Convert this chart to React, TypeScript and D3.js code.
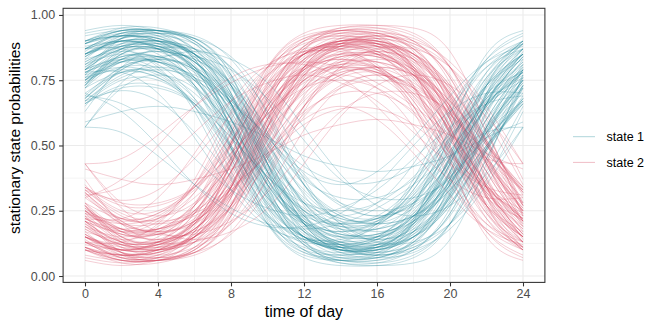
import React, { useEffect, useRef } from "react";
import * as d3 from "d3";

const hours = [0, 2, 4, 6, 8, 10, 12, 14, 16, 18, 20, 22, 24];

// state 1 stationary probability, one row per posterior draw
const state1Samples: number[][] = [
  [0.80, 0.87, 0.87, 0.80, 0.63, 0.37, 0.20, 0.13, 0.13, 0.20, 0.37, 0.63, 0.80],
  [0.85, 0.90, 0.90, 0.85, 0.69, 0.45, 0.25, 0.16, 0.16, 0.25, 0.45, 0.69, 0.85],
  [0.75, 0.84, 0.84, 0.75, 0.55, 0.31, 0.15, 0.10, 0.10, 0.15, 0.31, 0.55, 0.75],
  [0.85, 0.92, 0.92, 0.85, 0.66, 0.34, 0.15, 0.08, 0.08, 0.15, 0.34, 0.66, 0.85],
  [0.78, 0.84, 0.84, 0.78, 0.64, 0.45, 0.30, 0.22, 0.22, 0.30, 0.45, 0.64, 0.78],
  [0.70, 0.78, 0.78, 0.70, 0.55, 0.36, 0.22, 0.16, 0.16, 0.22, 0.36, 0.55, 0.70],
  [0.85, 0.88, 0.85, 0.73, 0.50, 0.27, 0.15, 0.12, 0.15, 0.27, 0.50, 0.73, 0.85],
  [0.73, 0.85, 0.88, 0.85, 0.73, 0.50, 0.27, 0.15, 0.12, 0.15, 0.27, 0.50, 0.73],
  [0.89, 0.92, 0.89, 0.80, 0.60, 0.35, 0.21, 0.17, 0.21, 0.35, 0.60, 0.80, 0.89],
  [0.80, 0.89, 0.92, 0.89, 0.80, 0.60, 0.35, 0.21, 0.17, 0.21, 0.35, 0.60, 0.80],
  [0.79, 0.83, 0.79, 0.65, 0.40, 0.20, 0.11, 0.08, 0.11, 0.20, 0.40, 0.65, 0.79],
  [0.65, 0.79, 0.83, 0.79, 0.65, 0.40, 0.20, 0.11, 0.08, 0.11, 0.20, 0.40, 0.65],
  [0.85, 0.90, 0.90, 0.85, 0.72, 0.51, 0.32, 0.22, 0.22, 0.32, 0.51, 0.72, 0.85],
  [0.68, 0.78, 0.78, 0.68, 0.49, 0.28, 0.15, 0.10, 0.10, 0.15, 0.28, 0.49, 0.68],
  [0.89, 0.94, 0.94, 0.89, 0.70, 0.35, 0.13, 0.07, 0.07, 0.13, 0.35, 0.70, 0.89],
  [0.83, 0.86, 0.83, 0.73, 0.55, 0.35, 0.23, 0.20, 0.23, 0.35, 0.55, 0.73, 0.83],
  [0.73, 0.83, 0.86, 0.83, 0.73, 0.55, 0.35, 0.23, 0.20, 0.23, 0.35, 0.55, 0.73],
  [0.87, 0.90, 0.87, 0.73, 0.45, 0.20, 0.09, 0.07, 0.09, 0.20, 0.45, 0.73, 0.87],
  [0.73, 0.87, 0.90, 0.87, 0.73, 0.45, 0.20, 0.09, 0.07, 0.09, 0.20, 0.45, 0.73],
  [0.90, 0.94, 0.94, 0.90, 0.76, 0.51, 0.28, 0.18, 0.18, 0.28, 0.51, 0.76, 0.90],
  [0.72, 0.82, 0.82, 0.72, 0.49, 0.24, 0.10, 0.06, 0.06, 0.10, 0.24, 0.49, 0.72],
  [0.76, 0.79, 0.76, 0.67, 0.53, 0.38, 0.28, 0.25, 0.28, 0.38, 0.53, 0.67, 0.76],
  [0.67, 0.76, 0.79, 0.76, 0.67, 0.53, 0.38, 0.28, 0.25, 0.28, 0.38, 0.53, 0.67],
  [0.87, 0.93, 0.93, 0.87, 0.70, 0.40, 0.18, 0.11, 0.11, 0.18, 0.40, 0.70, 0.87],
  [0.75, 0.82, 0.82, 0.75, 0.58, 0.37, 0.21, 0.15, 0.15, 0.21, 0.37, 0.58, 0.75],
  [0.90, 0.92, 0.90, 0.82, 0.65, 0.43, 0.28, 0.23, 0.28, 0.43, 0.65, 0.82, 0.90],
  [0.57, 0.72, 0.77, 0.72, 0.57, 0.35, 0.18, 0.10, 0.08, 0.10, 0.18, 0.35, 0.57],
  [0.79, 0.84, 0.84, 0.79, 0.68, 0.52, 0.37, 0.30, 0.30, 0.37, 0.52, 0.68, 0.79],
  [0.81, 0.89, 0.89, 0.81, 0.57, 0.26, 0.10, 0.05, 0.05, 0.10, 0.26, 0.57, 0.81],
  [0.93, 0.95, 0.93, 0.83, 0.57, 0.27, 0.12, 0.09, 0.12, 0.27, 0.57, 0.83, 0.93],
  [0.74, 0.83, 0.86, 0.83, 0.74, 0.57, 0.39, 0.27, 0.23, 0.27, 0.39, 0.57, 0.74],
  [0.77, 0.80, 0.77, 0.66, 0.48, 0.30, 0.20, 0.17, 0.20, 0.30, 0.48, 0.66, 0.77],
  [0.73, 0.86, 0.89, 0.86, 0.73, 0.48, 0.23, 0.12, 0.09, 0.12, 0.23, 0.48, 0.73],
  [0.90, 0.95, 0.95, 0.90, 0.73, 0.40, 0.17, 0.09, 0.09, 0.17, 0.40, 0.73, 0.90],
  [0.66, 0.72, 0.72, 0.66, 0.53, 0.38, 0.26, 0.20, 0.20, 0.26, 0.38, 0.53, 0.66],
  [0.92, 0.94, 0.92, 0.83, 0.62, 0.35, 0.20, 0.15, 0.20, 0.35, 0.62, 0.83, 0.92],
  [0.83, 0.92, 0.94, 0.92, 0.83, 0.62, 0.35, 0.20, 0.15, 0.20, 0.35, 0.62, 0.83],
  [0.76, 0.82, 0.82, 0.76, 0.60, 0.40, 0.24, 0.18, 0.18, 0.24, 0.40, 0.60, 0.76],
  [0.84, 0.90, 0.90, 0.84, 0.66, 0.39, 0.19, 0.12, 0.12, 0.19, 0.39, 0.66, 0.84],
  [0.78, 0.82, 0.78, 0.65, 0.43, 0.23, 0.14, 0.11, 0.14, 0.23, 0.43, 0.65, 0.78],
  [0.84, 0.91, 0.93, 0.91, 0.84, 0.67, 0.44, 0.28, 0.23, 0.28, 0.44, 0.67, 0.84],
  [0.76, 0.86, 0.86, 0.76, 0.49, 0.20, 0.07, 0.04, 0.04, 0.07, 0.20, 0.49, 0.76],
  [0.94, 0.96, 0.94, 0.85, 0.55, 0.21, 0.08, 0.06, 0.08, 0.21, 0.55, 0.85, 0.94],
  [0.77, 0.91, 0.94, 0.91, 0.77, 0.43, 0.14, 0.05, 0.04, 0.05, 0.14, 0.43, 0.77],
  [0.75, 0.80, 0.80, 0.75, 0.66, 0.54, 0.42, 0.36, 0.36, 0.42, 0.54, 0.66, 0.75],
  [0.67, 0.71, 0.67, 0.55, 0.38, 0.23, 0.15, 0.13, 0.15, 0.23, 0.38, 0.55, 0.67],
  [0.79, 0.91, 0.93, 0.91, 0.79, 0.53, 0.24, 0.11, 0.08, 0.11, 0.24, 0.53, 0.79],
  [0.82, 0.88, 0.88, 0.82, 0.68, 0.47, 0.29, 0.21, 0.21, 0.29, 0.47, 0.68, 0.82],
  [0.79, 0.87, 0.87, 0.79, 0.57, 0.29, 0.13, 0.07, 0.07, 0.13, 0.29, 0.57, 0.79],
  [0.90, 0.92, 0.90, 0.78, 0.50, 0.22, 0.10, 0.08, 0.10, 0.22, 0.50, 0.78, 0.90],
  [0.67, 0.77, 0.80, 0.77, 0.67, 0.50, 0.33, 0.23, 0.20, 0.23, 0.33, 0.50, 0.67],
  [0.57, 0.55, 0.46, 0.35, 0.26, 0.20, 0.18, 0.20, 0.26, 0.35, 0.46, 0.55, 0.57],
  [0.69, 0.66, 0.57, 0.45, 0.33, 0.26, 0.23, 0.26, 0.33, 0.45, 0.57, 0.66, 0.69],
  [0.59, 0.63, 0.65, 0.63, 0.59, 0.53, 0.46, 0.42, 0.40, 0.42, 0.46, 0.53, 0.59],
  [0.57, 0.74, 0.83, 0.86, 0.83, 0.74, 0.57, 0.39, 0.27, 0.23, 0.27, 0.39, 0.57],
  [0.70, 0.63, 0.50, 0.35, 0.24, 0.19, 0.19, 0.24, 0.35, 0.50, 0.63, 0.70, 0.70],
  [0.87, 0.87, 0.80, 0.63, 0.37, 0.20, 0.13, 0.13, 0.20, 0.37, 0.63, 0.80, 0.87],
  [0.63, 0.80, 0.87, 0.87, 0.80, 0.63, 0.37, 0.20, 0.13, 0.13, 0.20, 0.37, 0.63],
  [0.68, 0.79, 0.84, 0.84, 0.79, 0.68, 0.52, 0.37, 0.30, 0.30, 0.37, 0.52, 0.68],
  [0.78, 0.78, 0.70, 0.53, 0.33, 0.19, 0.14, 0.14, 0.19, 0.33, 0.53, 0.70, 0.78],
  [0.88, 0.90, 0.88, 0.82, 0.69, 0.53, 0.40, 0.35, 0.40, 0.53, 0.69, 0.82, 0.88],
  [0.82, 0.88, 0.88, 0.82, 0.66, 0.42, 0.23, 0.16, 0.16, 0.23, 0.42, 0.66, 0.82],
  [0.79, 0.87, 0.87, 0.79, 0.60, 0.33, 0.16, 0.10, 0.10, 0.16, 0.33, 0.60, 0.79],
  [0.87, 0.90, 0.87, 0.76, 0.53, 0.28, 0.15, 0.12, 0.15, 0.28, 0.53, 0.76, 0.87],
  [0.77, 0.87, 0.90, 0.87, 0.77, 0.55, 0.31, 0.18, 0.14, 0.18, 0.31, 0.55, 0.77],
  [0.90, 0.94, 0.94, 0.90, 0.75, 0.46, 0.22, 0.13, 0.13, 0.22, 0.46, 0.75, 0.90],
  [0.66, 0.75, 0.75, 0.66, 0.49, 0.30, 0.17, 0.12, 0.12, 0.17, 0.30, 0.49, 0.66],
  [0.81, 0.85, 0.81, 0.68, 0.45, 0.24, 0.14, 0.11, 0.14, 0.24, 0.45, 0.68, 0.81],
  [0.68, 0.80, 0.83, 0.80, 0.68, 0.48, 0.28, 0.17, 0.14, 0.17, 0.28, 0.48, 0.68],
  [0.85, 0.90, 0.88, 0.79, 0.57, 0.30, 0.15, 0.10, 0.12, 0.21, 0.43, 0.70, 0.85],
  [0.79, 0.88, 0.90, 0.85, 0.70, 0.43, 0.21, 0.12, 0.10, 0.15, 0.30, 0.57, 0.79],
  [0.85, 0.89, 0.88, 0.80, 0.63, 0.40, 0.25, 0.19, 0.20, 0.31, 0.52, 0.73, 0.85],
  [0.69, 0.80, 0.82, 0.76, 0.60, 0.37, 0.20, 0.12, 0.11, 0.15, 0.27, 0.48, 0.69],
  [0.87, 0.92, 0.90, 0.80, 0.54, 0.23, 0.09, 0.06, 0.07, 0.14, 0.37, 0.69, 0.87],
  [0.86, 0.93, 0.94, 0.91, 0.77, 0.47, 0.20, 0.10, 0.09, 0.13, 0.31, 0.63, 0.86],
  [0.78, 0.83, 0.82, 0.73, 0.57, 0.38, 0.25, 0.20, 0.22, 0.31, 0.48, 0.66, 0.78],
  [0.75, 0.85, 0.87, 0.82, 0.66, 0.41, 0.21, 0.13, 0.11, 0.16, 0.30, 0.54, 0.75],
  [0.85, 0.91, 0.91, 0.85, 0.69, 0.43, 0.23, 0.14, 0.14, 0.23, 0.43, 0.69, 0.85],
  [0.75, 0.83, 0.83, 0.75, 0.56, 0.32, 0.17, 0.11, 0.11, 0.17, 0.32, 0.56, 0.75],
  [0.89, 0.92, 0.91, 0.85, 0.68, 0.43, 0.25, 0.19, 0.21, 0.33, 0.56, 0.78, 0.89],
  [0.72, 0.85, 0.87, 0.80, 0.60, 0.31, 0.12, 0.06, 0.05, 0.08, 0.20, 0.45, 0.72],
  [0.84, 0.91, 0.91, 0.84, 0.66, 0.37, 0.17, 0.10, 0.10, 0.17, 0.37, 0.66, 0.84],
  [0.72, 0.78, 0.76, 0.65, 0.46, 0.26, 0.15, 0.11, 0.12, 0.19, 0.35, 0.56, 0.72],
  [0.81, 0.88, 0.89, 0.85, 0.74, 0.54, 0.35, 0.24, 0.22, 0.28, 0.44, 0.65, 0.81],
  [0.87, 0.93, 0.93, 0.87, 0.66, 0.32, 0.12, 0.06, 0.06, 0.12, 0.32, 0.66, 0.87],
  [0.89, 0.93, 0.91, 0.83, 0.61, 0.32, 0.15, 0.10, 0.11, 0.21, 0.46, 0.74, 0.89],
  [0.74, 0.82, 0.84, 0.79, 0.66, 0.46, 0.28, 0.19, 0.18, 0.23, 0.36, 0.57, 0.74],
  [0.89, 0.94, 0.94, 0.89, 0.73, 0.43, 0.20, 0.11, 0.11, 0.20, 0.43, 0.73, 0.89],
  [0.66, 0.73, 0.73, 0.66, 0.50, 0.33, 0.21, 0.15, 0.15, 0.21, 0.33, 0.50, 0.66],
];

const stateNames = ["state 1", "state 2"];
const stateColors = ["#1f8798", "#d4465e"];
const xTicks = [0, 4, 8, 12, 16, 20, 24];
const xMinor = [2, 6, 10, 14, 18, 22];
const yTicks = [0, 0.25, 0.5, 0.75, 1];
const yMinor = [0.125, 0.375, 0.625, 0.875];

const W = 664;
const H = 332;
const panel = { left: 63.1, right: 544.9, top: 8.3, bottom: 282.4 };
const font = "'Liberation Sans', Arial, Helvetica, sans-serif";

const App = () => {
  const svgRef = useRef<SVGSVGElement>(null);

  useEffect(() => {
    const svg = d3.select(svgRef.current);
    svg.selectAll("*").remove();

    const x = d3.scaleLinear().domain([-1.2, 25.2]).range([panel.left, panel.right]);
    const y = d3.scaleLinear().domain([-0.0245, 1.0255]).range([panel.bottom, panel.top]);

    svg
      .append("rect")
      .attr("x", panel.left)
      .attr("y", panel.top)
      .attr("width", panel.right - panel.left)
      .attr("height", panel.bottom - panel.top)
      .attr("fill", "white");

    // grid
    const grid = svg.append("g").attr("stroke", "#ebebeb");
    grid
      .selectAll("line.xmin")
      .data(xMinor)
      .join("line")
      .attr("x1", (d) => x(d))
      .attr("x2", (d) => x(d))
      .attr("y1", panel.top)
      .attr("y2", panel.bottom)
      .attr("stroke-width", 0.55);
    grid
      .selectAll("line.ymin")
      .data(yMinor)
      .join("line")
      .attr("x1", panel.left)
      .attr("x2", panel.right)
      .attr("y1", (d) => y(d))
      .attr("y2", (d) => y(d))
      .attr("stroke-width", 0.55);
    grid
      .selectAll("line.xmaj")
      .data(xTicks)
      .join("line")
      .attr("x1", (d) => x(d))
      .attr("x2", (d) => x(d))
      .attr("y1", panel.top)
      .attr("y2", panel.bottom)
      .attr("stroke-width", 1.1);
    grid
      .selectAll("line.ymaj")
      .data(yTicks)
      .join("line")
      .attr("x1", panel.left)
      .attr("x2", panel.right)
      .attr("y1", (d) => y(d))
      .attr("y2", (d) => y(d))
      .attr("stroke-width", 1.1);

    // sample curves
    const line = d3
      .line<number>()
      .x((_, i) => x(hours[i]))
      .y((v) => y(v))
      .curve(d3.curveNatural);

    const curves = svg.append("g").attr("fill", "none").attr("stroke-width", 0.7);
    state1Samples.forEach((s) => {
      curves
        .append("path")
        .attr("d", line(s))
        .attr("stroke", stateColors[0])
        .attr("stroke-opacity", 0.38);
      curves
        .append("path")
        .attr("d", line(s.map((v) => 1 - v)))
        .attr("stroke", stateColors[1])
        .attr("stroke-opacity", 0.38);
    });

    // panel border
    svg
      .append("rect")
      .attr("x", panel.left)
      .attr("y", panel.top)
      .attr("width", panel.right - panel.left)
      .attr("height", panel.bottom - panel.top)
      .attr("fill", "none")
      .attr("stroke", "#333333")
      .attr("stroke-width", 1.07);

    // axes
    const xAxis = svg
      .append("g")
      .attr("transform", `translate(0,${panel.bottom})`)
      .call(d3.axisBottom(x).tickValues(xTicks).tickSize(4).tickPadding(3).tickSizeOuter(0));
    const yAxis = svg
      .append("g")
      .attr("transform", `translate(${panel.left},0)`)
      .call(
        d3
          .axisLeft(y)
          .tickValues(yTicks)
          .tickFormat(d3.format(".2f"))
          .tickSize(4)
          .tickPadding(4)
          .tickSizeOuter(0)
      );
    [xAxis, yAxis].forEach((a) => {
      a.select(".domain").remove();
      a.selectAll(".tick line").attr("stroke", "#333333").attr("stroke-width", 1.07);
      a.selectAll(".tick text")
        .attr("fill", "#4d4d4d")
        .style("font-family", font)
        .style("font-size", "12.5px");
    });

    // titles
    svg
      .append("text")
      .attr("x", (panel.left + panel.right) / 2)
      .attr("y", 317)
      .attr("text-anchor", "middle")
      .style("font-family", font)
      .style("font-size", "16px")
      .attr("fill", "black")
      .text("time of day");
    svg
      .append("text")
      .attr("transform", `translate(20,138) rotate(-90)`)
      .attr("text-anchor", "middle")
      .style("font-family", font)
      .style("font-size", "15.5px")
      .attr("fill", "black")
      .text("stationary state probabilities");

    // legend
    const legend = svg.append("g");
    stateNames.forEach((name, i) => {
      const ly = 136.7 + i * 25.7;
      legend
        .append("line")
        .attr("x1", 573)
        .attr("x2", 595)
        .attr("y1", ly)
        .attr("y2", ly)
        .attr("stroke", stateColors[i])
        .attr("stroke-opacity", 0.45)
        .attr("stroke-width", 0.8);
      legend
        .append("text")
        .attr("x", 606.5)
        .attr("y", ly + 4.4)
        .style("font-family", font)
        .style("font-size", "12.5px")
        .attr("fill", "black")
        .text(name);
    });
  }, []);

  return (
    <svg
      ref={svgRef}
      width={W}
      height={H}
      style={{ position: "absolute", left: 0, top: 0, background: "white" }}
    />
  );
};

export default App;
